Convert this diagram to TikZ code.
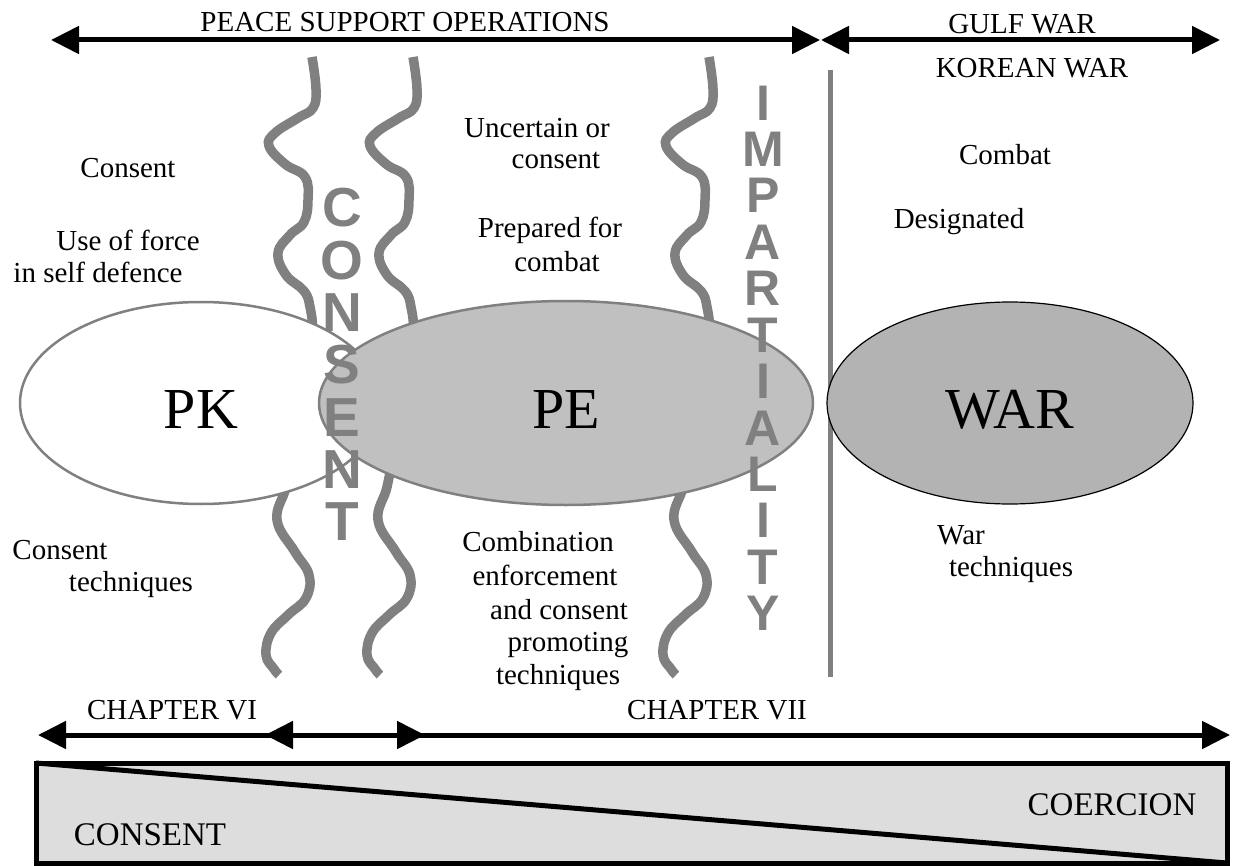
\documentclass[tikz,border=0pt]{standalone}
\usepackage{fontspec}
\setmainfont{Liberation Serif}
\setsansfont{Liberation Sans}
\usepackage{tikz}
\usetikzlibrary{shapes.geometric}
\usetikzlibrary{arrows.meta}
\usepackage{xcolor}
\definecolor{wavegray}{HTML}{808080}
\definecolor{pegray}{HTML}{C0C0C0}
\definecolor{wargray}{HTML}{B3B3B3}
\definecolor{bargray}{HTML}{DDDDDD}

\begin{document}
\begin{tikzpicture}[x=1pt,y=-1pt,>={Triangle[length=28pt,width=27pt]},thick,
		label text/.style={inner sep=0pt,font=\fontsize{29}{33}\selectfont},
		bar text/.style={inner sep=0pt,font=\fontsize{33}{37}\selectfont},
		big label/.style={inner sep=0pt,text height=50pt,text depth=0pt,font=\fontsize{58}{62}\selectfont},
		oval/.style={ellipse,draw=wavegray,line width=2.5pt,big label},
		wave line/.style={draw=wavegray,line width=9.5pt},
		tall letter/.style={inner sep=0pt,text=wavegray,font=\sffamily\bfseries\fontsize{55}{55}\selectfont},
		imp letter/.style={tall letter,font=\sffamily\bfseries\fontsize{50}{50}\selectfont},
		span arrow/.style={<->,line width=5pt}]
			\useasboundingbox (0,0) rectangle (1233,866);

			% Waves
			\foreach \wx in {312,413,709}
			  \draw[wave line,shift={(\wx,57)}] plot[smooth,tension=0.7] coordinates {
			    (0,0) (4,32) (1,51) (-14,61) (-37,76) (-43,89) (-27,107) (-7,120)
			    (-4,143) (-8,165) (-22,178) (-34,196) (-26,218) (-8,234) (-2,250)
			    (0,275) (-8,300) (-28,320) (-38,345) (-30,375) (-22,400) (-26,430)
			    (-35,463) (-17,495) (-3,518) (-6,541) (-24,558) (-41,576) (-46,598)
			    (-38,612) (-33,618)};

			% Divider
			\coordinate (div top) at (830,70);
			\coordinate (div bot) at (830,677);
			\draw[wavegray,line width=5pt] (div top) -- (div bot);

			% Ovals
			\node[oval,fill=white,minimum width=362pt,minimum height=202pt] (pk) at (201,403) {PK};
			\node[oval,fill=pegray,minimum width=494pt,minimum height=204pt] (pe) at (566,403) {PE};
			\node[oval,draw=black,line width=1.2pt,fill=wargray,minimum width=366pt,minimum height=202pt] (war) at (1010,403) {WAR};

			% Letters
			\foreach \l [count=\i] in {C,O,N,S,E,N,T}
			  \node[tall letter] (cons\i) at (342,{208+52.3*(\i-1)}) {\l};
			\foreach \l [count=\i] in {I,M,P,A,R,T,I,A,L,I,T,Y}
			  \node[imp letter] (imp\i) at (763,{103+46.4*(\i-1)}) {\l};

			% Texts
			\node[label text] (pso) at (405,22) {PEACE SUPPORT OPERATIONS};
			\node[label text] (gulf) at (1022,24) {GULF WAR};
			\node[label text] (korea) at (1032,68) {KOREAN WAR};
			\node[label text] (pk consent) at (128,168) {Consent};
			\node[label text] (pk force) at (128,240) {Use of force};
			\node[label text] (pk defence) at (98,272) {in self defence};
			\node[label text] (pe uncertain) at (537,128) {Uncertain or};
			\node[label text] (pe consent) at (556,160) {consent};
			\node[label text] (pe prepared) at (550,230) {Prepared for};
			\node[label text] (pe combat) at (557,262) {combat};
			\node[label text] (war combat) at (1005,155) {Combat};
			\node[label text] (war designated) at (959,222) {Designated};
			\node[label text] (pk tech a) at (60,550) {Consent};
			\node[label text] (pk tech b) at (131,585) {techniques};
			\node[label text] (pe tech a) at (538,542) {Combination};
			\node[label text] (pe tech b) at (545,575) {enforcement};
			\node[label text] (pe tech c) at (559,610) {and consent};
			\node[label text] (pe tech d) at (568,645) {promoting};
			\node[label text] (pe tech e) at (558,678) {techniques};
			\node[label text] (war tech a) at (961,535) {War};
			\node[label text] (war tech b) at (1011,570) {techniques};
			\node[label text] (ch6) at (172,710) {CHAPTER VI};
			\node[label text] (ch7) at (717,710) {CHAPTER VII};

			% Arrows
			\coordinate (pso w) at (51,40);
			\coordinate (pso e) at (820,40);
			\coordinate (gulf w) at (821,40);
			\coordinate (gulf e) at (1220,40);
			\coordinate (ch6 w) at (38,735);
			\coordinate (ch6 e) at (425,735);
			\coordinate (ch7 w) at (265,735);
			\coordinate (ch7 e) at (1230,735);
			\draw[span arrow] (pso w) -- (pso e);
			\draw[span arrow] (gulf w) -- (gulf e);
			\draw[span arrow] (ch6 w) -- (ch6 e);
			\draw[span arrow] (ch7 w) -- (ch7 e);

			% Bar
			\coordinate (bar nw) at (36,763);
			\coordinate (bar se) at (1227,863);
			\draw[line width=5pt,fill=bargray] (bar nw) rectangle (bar se);
			\draw[line width=5pt] (bar nw) -- (bar se);
			\node[bar text] (consent) at (150,835) {CONSENT};
			\node[bar text] (coercion) at (1112,805) {COERCION};
\end{tikzpicture}
\end{document}
